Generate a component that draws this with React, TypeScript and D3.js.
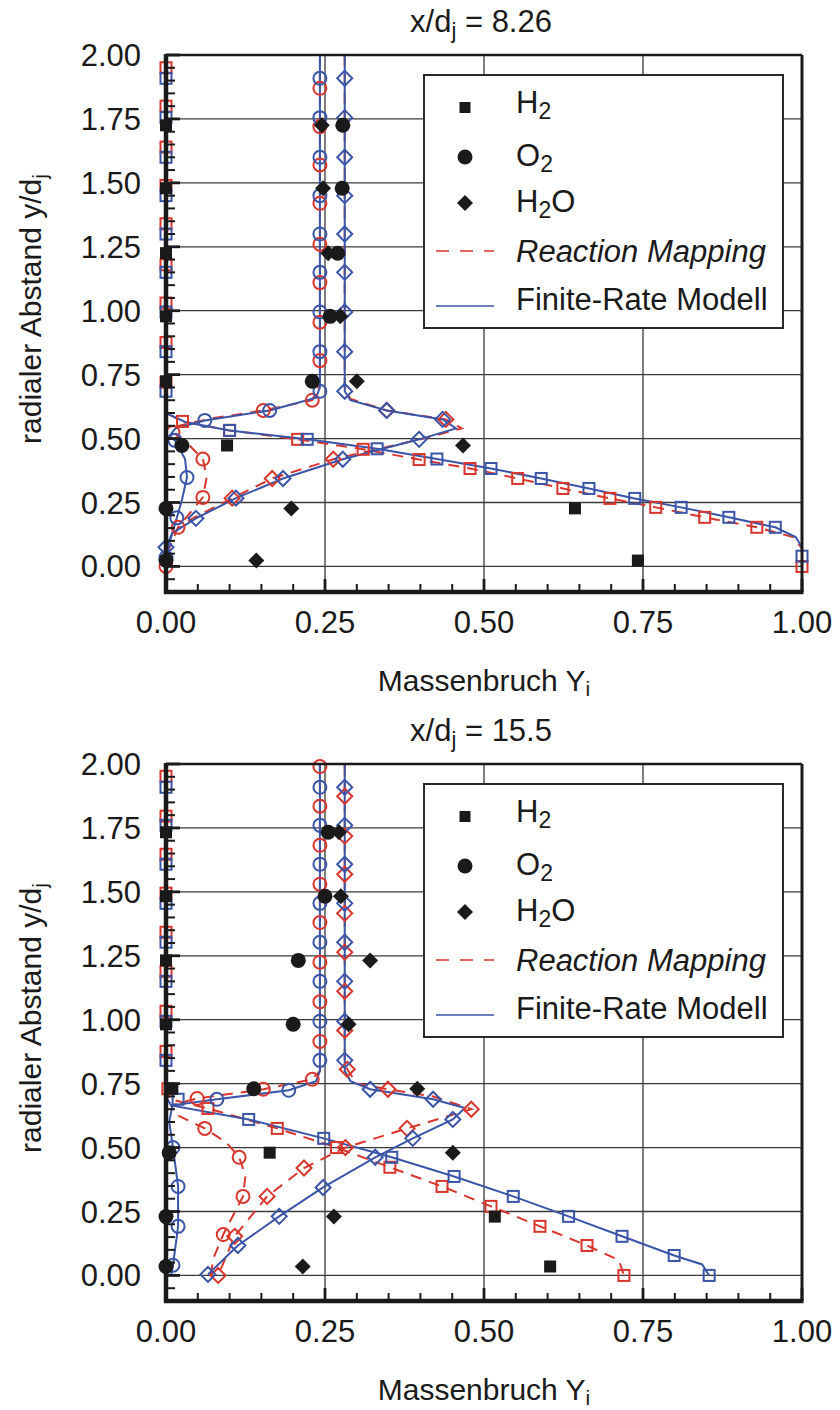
import React from "react";
import * as d3 from "d3";

type P = [number, number];

// ---------- axis ticks ----------
const xTickValues = [0, 0.25, 0.5, 0.75, 1.0];
const xTickLabels = ["0.00", "0.25", "0.50", "0.75", "1.00"];
const yTickValues = [0, 0.25, 0.5, 0.75, 1.0, 1.25, 1.5, 1.75, 2.0];
const yTickLabels = ["0.00", "0.25", "0.50", "0.75", "1.00", "1.25", "1.50", "1.75", "2.00"];

// ---------- panel 1 : x/dj = 8.26 ----------
const p1ExpY = [0.023, 0.227, 0.473, 0.724, 0.978, 1.225, 1.479, 1.725];
const p1ExpH2 = [0.742, 0.643, 0.096, 0, 0, 0, 0, 0];
const p1ExpO2 = [0, 0, 0.025, 0.23, 0.258, 0.27, 0.277, 0.278];
const p1ExpH2O = [0.142, 0.197, 0.467, 0.3, 0.274, 0.255, 0.247, 0.245];

const p1RmH2Line: P[] = [[0, 2.0], [0, 0.6], [0.026, 0.567], [0.1, 0.532], [0.207, 0.497], [0.31, 0.458], [0.398, 0.418], [0.478, 0.383], [0.553, 0.344], [0.624, 0.305], [0.698, 0.266], [0.77, 0.231], [0.847, 0.192], [0.929, 0.153], [0.986, 0.115], [1.0, 0.07], [1.0, 0.0]];
const p1RmH2Marks: P[] = [[0, 1.95], [0, 1.8], [0, 1.64], [0, 1.49], [0, 1.34], [0, 1.18], [0, 1.03], [0, 0.876], [0, 0.72], [0.026, 0.567], [0.1, 0.532], [0.207, 0.497], [0.31, 0.458], [0.398, 0.418], [0.478, 0.383], [0.553, 0.344], [0.624, 0.305], [0.698, 0.266], [0.77, 0.231], [0.847, 0.192], [0.929, 0.153], [1.0, 0.0]];
const p1RmO2Line: P[] = [[0.242, 2.0], [0.242, 0.72], [0.23, 0.65], [0.153, 0.61], [0.07, 0.578], [0.02, 0.55], [0.011, 0.524], [0.03, 0.49], [0.058, 0.42], [0.064, 0.35], [0.058, 0.27], [0.019, 0.153], [0.003, 0.06], [0, 0.0]];
const p1RmO2Marks: P[] = [[0.242, 1.87], [0.242, 1.72], [0.242, 1.57], [0.242, 1.42], [0.242, 1.26], [0.242, 1.11], [0.242, 0.955], [0.242, 0.805], [0.23, 0.65], [0.153, 0.61], [0.011, 0.524], [0.058, 0.42], [0.058, 0.27], [0.019, 0.153], [0, 0.0]];
const p1RmH2OLine: P[] = [[0.281, 2.0], [0.281, 0.7], [0.29, 0.655], [0.347, 0.61], [0.44, 0.575], [0.465, 0.54], [0.4, 0.497], [0.263, 0.419], [0.167, 0.344], [0.104, 0.267], [0.04, 0.185], [0.01, 0.13], [0, 0.07], [0, 0]];
const p1RmH2OMarks: P[] = [[0.347, 0.61], [0.44, 0.575], [0.263, 0.419], [0.167, 0.344], [0.104, 0.267]];

const p1FrH2Line: P[] = [[0, 2.0], [0, 0.6], [0.03, 0.565], [0.1, 0.532], [0.222, 0.497], [0.332, 0.46], [0.426, 0.42], [0.511, 0.383], [0.59, 0.344], [0.665, 0.305], [0.737, 0.266], [0.81, 0.231], [0.885, 0.192], [0.958, 0.153], [0.99, 0.115], [1.0, 0.075], [1.0, 0.0]];
const p1FrH2Marks: P[] = [[0, 1.909], [0, 1.755], [0, 1.6], [0, 1.45], [0, 1.3], [0, 1.15], [0, 0.995], [0, 0.84], [0, 0.685], [0.1, 0.532], [0.222, 0.497], [0.332, 0.46], [0.426, 0.42], [0.511, 0.383], [0.59, 0.344], [0.665, 0.305], [0.737, 0.266], [0.81, 0.231], [0.885, 0.192], [0.958, 0.153], [1.0, 0.04]];
const p1FrO2Line: P[] = [[0.242, 2.0], [0.242, 0.7], [0.236, 0.66], [0.163, 0.61], [0.061, 0.571], [0.015, 0.54], [0.005, 0.51], [0.014, 0.493], [0.03, 0.42], [0.033, 0.348], [0.025, 0.26], [0.017, 0.19], [0.005, 0.09], [0, 0.0]];
const p1FrO2Marks: P[] = [[0.242, 1.909], [0.242, 1.755], [0.242, 1.6], [0.242, 1.45], [0.242, 1.3], [0.242, 1.15], [0.242, 0.995], [0.242, 0.84], [0.242, 0.685], [0.163, 0.61], [0.061, 0.571], [0.014, 0.493], [0.033, 0.348], [0.017, 0.19], [0, 0.035]];
const p1FrH2OLine: P[] = [[0.281, 2.0], [0.281, 0.685], [0.29, 0.65], [0.347, 0.61], [0.435, 0.575], [0.456, 0.54], [0.398, 0.497], [0.278, 0.419], [0.184, 0.344], [0.11, 0.267], [0.047, 0.188], [0.01, 0.13], [0, 0.075], [0, 0]];
const p1FrH2OMarks: P[] = [[0.281, 1.909], [0.281, 1.755], [0.281, 1.6], [0.281, 1.45], [0.281, 1.3], [0.281, 1.15], [0.281, 0.995], [0.281, 0.84], [0.281, 0.685], [0.347, 0.61], [0.435, 0.575], [0.398, 0.497], [0.278, 0.419], [0.184, 0.344], [0.11, 0.267], [0.047, 0.188], [0, 0.075]];

// ---------- panel 2 : x/dj = 15.5 ----------
const p2ExpY = [0.035, 0.23, 0.48, 0.73, 0.982, 1.232, 1.483, 1.733];
const p2ExpH2 = [0.604, 0.517, 0.163, 0.01, 0, 0, 0, 0];
const p2ExpO2 = [0, 0, 0.005, 0.138, 0.2, 0.208, 0.25, 0.255];
const p2ExpH2O = [0.215, 0.264, 0.451, 0.395, 0.287, 0.321, 0.275, 0.272];

const p2RmH2Line: P[] = [[0, 2.0], [0, 0.74], [0.005, 0.69], [0.066, 0.653], [0.175, 0.575], [0.268, 0.5], [0.352, 0.423], [0.434, 0.348], [0.511, 0.27], [0.588, 0.192], [0.662, 0.117], [0.712, 0.06], [0.72, 0.0]];
const p2RmH2Marks: P[] = [[0, 1.952], [0, 1.796], [0, 1.647], [0, 1.495], [0, 1.342], [0, 1.189], [0, 1.033], [0, 0.876], [0.003, 0.73], [0.066, 0.653], [0.175, 0.575], [0.268, 0.5], [0.352, 0.423], [0.434, 0.348], [0.511, 0.27], [0.588, 0.192], [0.662, 0.117], [0.72, 0.0]];
const p2RmO2Line: P[] = [[0.242, 2.0], [0.242, 0.8], [0.23, 0.767], [0.153, 0.728], [0.049, 0.692], [0.008, 0.665], [0.015, 0.63], [0.061, 0.575], [0.095, 0.52], [0.115, 0.462], [0.125, 0.39], [0.121, 0.309], [0.09, 0.16], [0.075, 0.07], [0.07, 0.0]];
const p2RmO2Marks: P[] = [[0.242, 1.99], [0.242, 1.835], [0.242, 1.682], [0.242, 1.53], [0.242, 1.38], [0.242, 1.225], [0.242, 1.07], [0.242, 0.915], [0.23, 0.767], [0.153, 0.728], [0.049, 0.692], [0.061, 0.575], [0.115, 0.462], [0.121, 0.309], [0.09, 0.16]];
const p2RmH2OLine: P[] = [[0.281, 2.0], [0.281, 0.83], [0.285, 0.806], [0.3, 0.75], [0.349, 0.728], [0.42, 0.7], [0.48, 0.65], [0.379, 0.575], [0.282, 0.5], [0.217, 0.42], [0.159, 0.309], [0.108, 0.153], [0.082, 0.0]];
const p2RmH2OMarks: P[] = [[0.281, 1.874], [0.281, 1.718], [0.281, 1.569], [0.281, 1.416], [0.281, 1.264], [0.281, 1.111], [0.281, 0.958], [0.285, 0.806], [0.349, 0.728], [0.48, 0.65], [0.379, 0.575], [0.282, 0.5], [0.217, 0.42], [0.159, 0.309], [0.108, 0.153], [0.082, 0.0]];

const p2FrH2Line: P[] = [[0, 2.0], [0, 0.7], [0.008, 0.665], [0.13, 0.61], [0.248, 0.536], [0.355, 0.462], [0.453, 0.387], [0.546, 0.309], [0.633, 0.231], [0.717, 0.153], [0.799, 0.078], [0.843, 0.043], [0.854, 0.0]];
const p2FrH2Marks: P[] = [[0, 1.909], [0, 1.76], [0, 1.608], [0, 1.455], [0, 1.303], [0, 1.15], [0, 0.994], [0, 0.841], [0.019, 0.689], [0.13, 0.61], [0.248, 0.536], [0.355, 0.462], [0.453, 0.387], [0.546, 0.309], [0.633, 0.231], [0.717, 0.153], [0.799, 0.078], [0.854, 0.0]];
const p2FrO2Line: P[] = [[0.242, 2.0], [0.242, 0.8], [0.236, 0.76], [0.193, 0.724], [0.08, 0.689], [0.01, 0.665], [0.005, 0.6], [0.011, 0.5], [0.019, 0.348], [0.019, 0.192], [0.011, 0.04], [0.008, 0.0]];
const p2FrO2Marks: P[] = [[0.242, 1.909], [0.242, 1.76], [0.242, 1.608], [0.242, 1.455], [0.242, 1.303], [0.242, 1.15], [0.242, 0.994], [0.242, 0.841], [0.193, 0.724], [0.08, 0.689], [0.011, 0.5], [0.019, 0.348], [0.019, 0.192], [0.011, 0.04]];
const p2FrH2OLine: P[] = [[0.281, 2.0], [0.281, 0.8], [0.29, 0.76], [0.321, 0.728], [0.42, 0.689], [0.47, 0.655], [0.451, 0.61], [0.388, 0.536], [0.329, 0.462], [0.247, 0.344], [0.178, 0.231], [0.113, 0.117], [0.066, 0.004]];
const p2FrH2OMarks: P[] = [[0.281, 1.909], [0.281, 1.76], [0.281, 1.608], [0.281, 1.455], [0.281, 1.303], [0.281, 1.15], [0.281, 0.994], [0.281, 0.841], [0.321, 0.728], [0.42, 0.689], [0.451, 0.61], [0.388, 0.536], [0.329, 0.462], [0.247, 0.344], [0.178, 0.231], [0.113, 0.117], [0.066, 0.004]];

// ---------- styling ----------
const RED = "#d8362c";
const BLUE = "#3a55a8";
const BLACK = "#1a1a1a";
const FONT = "'Liberation Sans', Arial, Helvetica, sans-serif";
const DASH = "11,8";

interface Model { h2: P[]; h2m: P[]; o2: P[]; o2m: P[]; h2o: P[]; h2om: P[] }
interface PanelData {
  title: string;
  expY: number[];
  expH2: number[];
  expO2: number[];
  expH2O: number[];
  rm: Model;
  fr: Model;
}

const panels: PanelData[] = [
  {
    title: "8.26",
    expY: p1ExpY, expH2: p1ExpH2, expO2: p1ExpO2, expH2O: p1ExpH2O,
    rm: { h2: p1RmH2Line, h2m: p1RmH2Marks, o2: p1RmO2Line, o2m: p1RmO2Marks, h2o: p1RmH2OLine, h2om: p1RmH2OMarks },
    fr: { h2: p1FrH2Line, h2m: p1FrH2Marks, o2: p1FrO2Line, o2m: p1FrO2Marks, h2o: p1FrH2OLine, h2om: p1FrH2OMarks },
  },
  {
    title: "15.5",
    expY: p2ExpY, expH2: p2ExpH2, expO2: p2ExpO2, expH2O: p2ExpH2O,
    rm: { h2: p2RmH2Line, h2m: p2RmH2Marks, o2: p2RmO2Line, o2m: p2RmO2Marks, h2o: p2RmH2OLine, h2om: p2RmH2OMarks },
    fr: { h2: p2FrH2Line, h2m: p2FrH2Marks, o2: p2FrO2Line, o2m: p2FrO2Marks, h2o: p2FrH2OLine, h2om: p2FrH2OMarks },
  },
];

const X0 = 166;
const X1 = 802;

function diamondPath(cx: number, cy: number, r: number) {
  return `M${cx},${cy - r}L${cx + r},${cy}L${cx},${cy + r}L${cx - r},${cy}Z`;
}

function OpenMarks({ pts, kind, color, x, y }: { pts: P[]; kind: string; color: string; x: any; y: any }) {
  return (
    <g fill="none" stroke={color} strokeWidth={2}>
      {pts.map((p, i) => {
        const cx = x(p[0]);
        const cy = y(p[1]);
        if (kind === "square") return <rect key={i} x={cx - 5.5} y={cy - 5.5} width={11} height={11} />;
        if (kind === "circle") return <circle key={i} cx={cx} cy={cy} r={6.5} />;
        return <path key={i} d={diamondPath(cx, cy, 7.5)} />;
      })}
    </g>
  );
}

function Panel({ data, dy }: { data: PanelData; dy: number }) {
  const yTop = 55 + dy;
  const yBot = 592 + dy;
  const x = d3.scaleLinear().domain([0, 1]).range([X0, X1]);
  const y = d3.scaleLinear().domain([-0.1, 2.0]).range([yBot, yTop]);
  const line = d3.line<P>().x((d) => x(d[0])).y((d) => y(d[1]));

  const minorY = d3.range(-1, 40).map((i) => i * 0.05).filter((v) => Math.abs(v / 0.25 - Math.round(v / 0.25)) > 1e-6);
  const minorX = d3.range(0, 21).map((i) => i * 0.05).filter((v) => Math.abs(v / 0.25 - Math.round(v / 0.25)) > 1e-6);

  const lx = 424, ly = 75 + dy, lw = 359, lh = 253;
  const mx = 465, tx = 516;
  const rows = [113, 166, 212, 262, 310].map((b) => b + dy);

  return (
    <g>
      {/* grid */}
      <g stroke="#3a3a3a" strokeWidth={1.3}>
        {yTickValues.filter((v) => v < 2).map((v) => (
          <line key={"gy" + v} x1={X0} x2={X1} y1={y(v)} y2={y(v)} />
        ))}
        {[0.25, 0.5, 0.75].map((v) => (
          <line key={"gx" + v} x1={x(v)} x2={x(v)} y1={yTop} y2={yBot} />
        ))}
      </g>

      {/* model lines */}
      <g fill="none" stroke={RED} strokeWidth={2} strokeDasharray={DASH}>
        <path d={line(data.rm.h2) || ""} />
        <path d={line(data.rm.o2) || ""} />
        <path d={line(data.rm.h2o) || ""} />
      </g>
      <g fill="none" stroke={BLUE} strokeWidth={2}>
        <path d={line(data.fr.h2) || ""} />
        <path d={line(data.fr.o2) || ""} />
        <path d={line(data.fr.h2o) || ""} />
      </g>

      <OpenMarks pts={data.rm.h2m} kind="square" color={RED} x={x} y={y} />
      <OpenMarks pts={data.rm.o2m} kind="circle" color={RED} x={x} y={y} />
      <OpenMarks pts={data.rm.h2om} kind="diamond" color={RED} x={x} y={y} />
      <OpenMarks pts={data.fr.h2m} kind="square" color={BLUE} x={x} y={y} />
      <OpenMarks pts={data.fr.o2m} kind="circle" color={BLUE} x={x} y={y} />
      <OpenMarks pts={data.fr.h2om} kind="diamond" color={BLUE} x={x} y={y} />

      {/* experiments */}
      <g fill={BLACK}>
        {data.expY.map((v, i) => (
          <rect key={"eh" + i} x={x(data.expH2[i]) - 6} y={y(v) - 6} width={12} height={12} />
        ))}
        {data.expY.map((v, i) => (
          <circle key={"eo" + i} cx={x(data.expO2[i])} cy={y(v)} r={7.5} />
        ))}
        {data.expY.map((v, i) => (
          <path key={"ew" + i} d={diamondPath(x(data.expH2O[i]), y(v), 8)} />
        ))}
      </g>

      {/* frame */}
      <line x1={X0} x2={X1} y1={yTop} y2={yTop} stroke={BLACK} strokeWidth={2.5} />
      <line x1={X1} x2={X1} y1={yTop} y2={yBot} stroke={BLACK} strokeWidth={3} />
      <line x1={X0} x2={X0} y1={yTop - 1} y2={yBot + 2} stroke={BLACK} strokeWidth={4.5} />
      <line x1={X0 - 2} x2={X1 + 1.5} y1={yBot} y2={yBot} stroke={BLACK} strokeWidth={4.5} />

      {/* ticks */}
      <g stroke={BLACK}>
        {yTickValues.map((v) => (
          <line key={"ty" + v} x1={X0} x2={X0 + 14} y1={y(v)} y2={y(v)} strokeWidth={2.8} />
        ))}
        {minorY.map((v) => (
          <line key={"my" + v} x1={X0} x2={X0 + 9} y1={y(v)} y2={y(v)} strokeWidth={2} />
        ))}
        {xTickValues.map((v) => (
          <line key={"tx" + v} x1={x(v)} x2={x(v)} y1={yBot} y2={yBot - 13} strokeWidth={2.8} />
        ))}
        {minorX.map((v) => (
          <line key={"mx" + v} x1={x(v)} x2={x(v)} y1={yBot} y2={yBot - 8} strokeWidth={2} />
        ))}
      </g>

      {/* tick labels */}
      <g fontFamily={FONT} fontSize={31} fill={BLACK}>
        {yTickValues.map((v, i) => (
          <text key={"ly" + v} x={141} y={y(v) + 11} textAnchor="end">{yTickLabels[i]}</text>
        ))}
        {xTickValues.map((v, i) => (
          <text key={"lx" + v} x={x(v)} y={yBot + 41} textAnchor="middle">{xTickLabels[i]}</text>
        ))}
      </g>

      {/* title */}
      <text x={481} y={32 + dy} textAnchor="middle" fontFamily={FONT} fontSize={31} fill={BLACK}>
        x/d<tspan dy={6} fontSize={22}>j</tspan><tspan dy={-6}> = {data.title}</tspan>
      </text>

      {/* x label */}
      <text x={484} y={691 + dy} textAnchor="middle" fontFamily={FONT} fontSize={30} fill={BLACK}>
        Massenbruch Y<tspan dy={5} fontSize={21}>i</tspan>
      </text>

      {/* y label */}
      <text transform={`translate(41,${309 + dy}) rotate(-90)`} textAnchor="middle" fontFamily={FONT} fontSize={30} fill={BLACK}>
        radialer Abstand y/d<tspan dy={6} fontSize={21}>j</tspan>
      </text>

      {/* legend */}
      <rect x={lx} y={ly} width={lw} height={lh} fill="#fff" stroke="#2a2a2a" strokeWidth={2} />
      <rect x={mx - 5.5} y={rows[0] - 11} width={11} height={11} fill={BLACK} />
      <circle cx={mx} cy={rows[1] - 9} r={7.5} fill={BLACK} />
      <path d={diamondPath(mx, rows[2] - 9, 8)} fill={BLACK} />
      <line x1={436} x2={494} y1={rows[3] - 11} y2={rows[3] - 11} stroke={RED} strokeWidth={1.6} strokeDasharray="13,11" />
      <line x1={436} x2={494} y1={rows[4] - 4} y2={rows[4] - 4} stroke={BLUE} strokeWidth={1.6} />
      <g fontFamily={FONT} fontSize={31} fill={BLACK}>
        <text x={tx} y={rows[0]}>H<tspan dy={6} fontSize={23}>2</tspan></text>
        <text x={tx} y={rows[1]}>O<tspan dy={6} fontSize={23}>2</tspan></text>
        <text x={tx} y={rows[2]}>H<tspan dy={6} fontSize={23}>2</tspan><tspan dy={-6}>O</tspan></text>
        <text x={tx} y={rows[3]} fontStyle="italic">Reaction Mapping</text>
        <text x={tx} y={rows[4]}>Finite-Rate Modell</text>
      </g>
    </g>
  );
}

export default function App() {
  return (
    <svg
      width={840}
      height={1410}
      viewBox="0 0 840 1410"
      style={{ position: "absolute", left: 0, top: 0, background: "#fff" }}
    >
      <rect x={0} y={0} width={840} height={1410} fill="#fff" />
      {panels.map((p, i) => (
        <Panel key={i} data={p} dy={i * 709} />
      ))}
    </svg>
  );
}
